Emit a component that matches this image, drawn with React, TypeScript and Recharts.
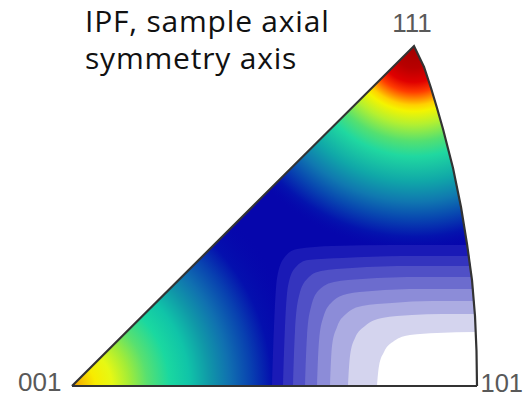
import React from 'react';
import { ComposedChart, Area, XAxis, YAxis, ReferenceLine, ReferenceDot } from 'recharts';

// Triangle outline: 001 at origin, straight edge up to 111, great-circle arc down to 101
const edgePoints = [
  { x: 0, y: 0 },
  { x: 342, y: 340 },
  { x: 352, y: 319 },
  { x: 359, y: 298 },
  { x: 365, y: 278 },
  { x: 371, y: 257 },
  { x: 381, y: 218 },
  { x: 389, y: 179 },
  { x: 395, y: 142 },
  { x: 400, y: 106 },
  { x: 403, y: 70 },
  { x: 404.5, y: 35 },
  { x: 405, y: 0 },
];

// contour levels around 101, outer to inner (last one is the white core)
const levelColors = ['#1a1ab6', '#3434be', '#5050c6', '#6c6cce', '#8c8cd8', '#acace2', '#d4d4ee', '#ffffff'];
const levelEdges = [
  [[200, 0], [202, 60], [205, 108], [212, 128], [225, 137], [260, 140], [320, 141], [394.5, 141]],
  [[211, 0], [213, 60], [216, 100], [223, 118], [236, 126], [270, 128], [330, 130], [396, 130]],
  [[221, 0], [223, 55], [227, 90], [235, 107], [249, 115], [280, 118], [340, 120], [397.5, 120]],
  [[233, 0], [235, 50], [239, 79], [247, 96], [262, 104], [290, 107], [350, 109], [399, 109]],
  [[245, 0], [247, 45], [251, 68], [260, 84], [275, 92], [300, 95], [350, 97], [400.5, 97]],
  [[258, 0], [260, 40], [265, 59], [274, 72], [290, 80], [320, 83], [360, 85], [401.5, 85]],
  [[276, 0], [278, 30], [283, 48], [293, 60], [310, 68], [340, 71], [370, 72], [402.5, 72]],
  [[305, 0], [307, 20], [312, 34], [322, 45], [338, 51], [365, 53], [403.5, 54]],
];

// colour ramps of the two smooth maxima (offset, colour)
const stops001: [number, string][] = [
  [0, '#f09800'], [0.043, '#f6c000'], [0.1, '#f8ec00'], [0.17, '#e6f814'], [0.245, '#a2ec38'],
  [0.32, '#58e070'], [0.415, '#1ad8a0'], [0.5, '#10c4a8'], [0.585, '#1098a8'], [0.67, '#1070b0'],
  [0.765, '#0840b0'], [0.85, '#0410ae'],
];
const stops111: [number, string][] = [
  [0, '#a00000'], [0.107, '#b80000'], [0.175, '#e00000'], [0.223, '#ff3c00'], [0.257, '#ff8c00'],
  [0.286, '#ffd000'], [0.316, '#f4f400'], [0.379, '#b4f030'], [0.461, '#54e070'], [0.534, '#20d8a0'],
  [0.655, '#10a8a8'], [0.752, '#1078b0'], [0.835, '#0848b0'], [0.922, '#0414ae'],
];

const baseBlue = '#0606ac';
const arc = edgePoints.slice(1);

const levelData = levelEdges.map((edge) => {
  const last = edge[edge.length - 1];
  return [
    ...edge.map(([x, y]) => ({ x, y })),
    ...arc.filter((p) => p.y < last[1] && p.x > last[0]),
  ];
});

const labelStyle = { fontSize: 26, fill: '#595959', fontFamily: 'Liberation Sans, Arial, sans-serif' };
const titleStyle: React.CSSProperties = {
  position: 'absolute',
  left: 85,
  fontFamily: '"Open Sans", sans-serif',
  fontSize: 30,
  letterSpacing: 0.8,
  lineHeight: '34px',
  height: 34,
  color: '#111',
  whiteSpace: 'nowrap',
};

export default function App() {
  return (
    <div style={{ position: 'absolute', left: 0, top: 0, width: 529, height: 396, background: '#fff' }}>
      <ComposedChart width={529} height={396} margin={{ top: 0, right: 0, bottom: 0, left: 0 }}>
        <defs>
          <radialGradient id="g001" cx="0" cy="1" r="0.58" gradientTransform="translate(0 1) scale(1 1.191) translate(0 -1)">
            {stops001.map(([o, c]) => (
              <stop key={o} offset={o} stopColor={c} />
            ))}
            <stop offset={1} stopColor={baseBlue} stopOpacity={0} />
          </radialGradient>
          <radialGradient id="g111" cx="0.8444" cy="0" r="0.51" gradientTransform="scale(1 1.191)">
            {stops111.map(([o, c]) => (
              <stop key={o} offset={o} stopColor={c} />
            ))}
            <stop offset={1} stopColor={baseBlue} stopOpacity={0} />
          </radialGradient>
        </defs>
        <XAxis type="number" dataKey="x" domain={[-72, 457]} hide allowDataOverflow />
        <YAxis type="number" domain={[-10, 386]} hide allowDataOverflow />

        <Area data={edgePoints} dataKey="y" type="linear" baseValue={0} stroke="none" fill={baseBlue} fillOpacity={1} dot={false} activeDot={false} isAnimationActive={false} />
        <Area data={edgePoints} dataKey="y" type="linear" baseValue={0} stroke="none" fill="url(#g001)" fillOpacity={1} dot={false} activeDot={false} isAnimationActive={false} />
        <Area data={edgePoints} dataKey="y" type="linear" baseValue={0} stroke="none" fill="url(#g111)" fillOpacity={1} dot={false} activeDot={false} isAnimationActive={false} />

        {levelData.map((d, i) => (
          <Area key={i} data={d} dataKey="y" type="monotone" baseValue={0} stroke="none" fill={levelColors[i]} fillOpacity={1} dot={false} activeDot={false} isAnimationActive={false} />
        ))}

        <Area data={edgePoints} dataKey="y" type="linear" baseValue={0} stroke="#333" strokeWidth={2.2} fill="none" dot={false} activeDot={false} isAnimationActive={false} />
        <ReferenceLine segment={[{ x: 0, y: 0 }, { x: 405, y: 0 }]} stroke="#333" strokeWidth={2.2} />

        <ReferenceDot x={0} y={0} r={0.5} fill="none" stroke="none" label={{ value: '001', position: 'left', offset: 10, dy: -4.5, ...labelStyle }} />
        <ReferenceDot x={405} y={0} r={0.5} fill="none" stroke="none" label={{ value: '101', position: 'right', offset: 3, dy: -3.5, ...labelStyle, fontSize: 25.5 }} />
        <ReferenceDot x={342} y={340} r={0.5} fill="none" stroke="none" label={{ value: '111', position: 'top', offset: 13.5, dx: -2, ...labelStyle }} />
      </ComposedChart>
      <div style={{ ...titleStyle, top: 4 }}>IPF, sample axial</div>
      <div style={{ ...titleStyle, top: 41 }}>symmetry axis</div>
    </div>
  );
}
